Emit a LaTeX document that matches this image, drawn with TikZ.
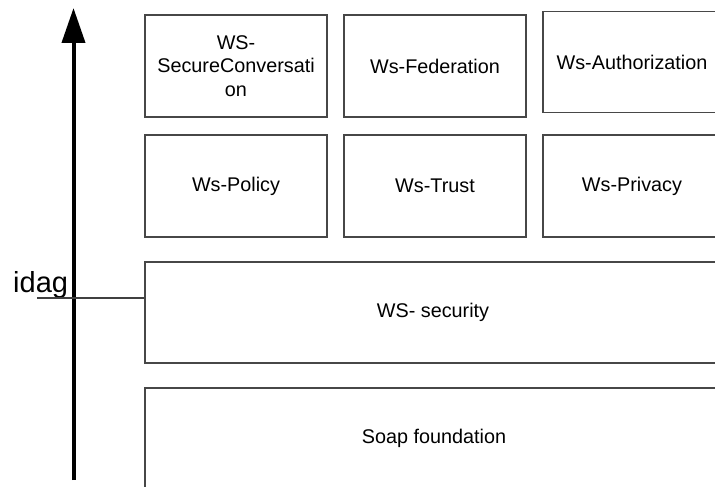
\documentclass[tikz,border=0pt]{standalone}
\usepackage{fontspec}
\setmainfont{Liberation Sans}
\usetikzlibrary{arrows.meta}
\tikzset{
  layer/.style={draw=black!72, line width=1.3pt, rectangle, inner sep=0pt,
    align=center, font=\fontsize{19.8}{23.5}\selectfont},
  axis/.style={line width=4pt, -{Triangle[width=23pt,length=35pt]}},
  tick/.style={draw=black!75, line width=1.2pt}
}
\begin{document}
\begin{tikzpicture}[x=1pt, y=-1pt]
\useasboundingbox (0,0) rectangle (715,487);
\begin{scope}
\clip (0,0) rectangle (715,487);
% upper row of specifications
\node[layer, minimum width=182pt, minimum height=102pt] (conv) at (236,66) {WS-\\SecureConversati\\on};
\node[layer, minimum width=182pt, minimum height=102pt] (fed) at (435,66) {Ws-Federation};
\node[layer, minimum width=178pt, minimum height=101pt] (auth) at (632,62) {Ws-Authorization};
% middle row
\node[layer, minimum width=182pt, minimum height=102pt] (pol) at (236,186) {Ws-Policy};
\node[layer, minimum width=182pt, minimum height=102pt] (trust) at (435,186) {Ws-Trust};
\node[layer, minimum width=178pt, minimum height=102pt] (priv) at (632,186) {Ws-Privacy};
% base layers
\node[layer, minimum width=576pt, minimum height=101pt] (sec) at (433,312.5) {WS- security};
\node[layer, minimum width=578pt, minimum height=100pt] (soap) at (434,438) {Soap foundation};
\end{scope}
% vertical axis
\coordinate (abot) at (73.5,480);
\coordinate (atop) at (73.5,8);
\draw[axis] (abot) -- (atop);
% level marker
\node[anchor=base west, inner sep=0pt, font=\fontsize{29}{34}\selectfont] (idag) at (13,292) {idag};
\coordinate (mark) at (37,298);
\draw[tick] (mark) -- (mark -| sec.west);
\end{tikzpicture}
\end{document}
